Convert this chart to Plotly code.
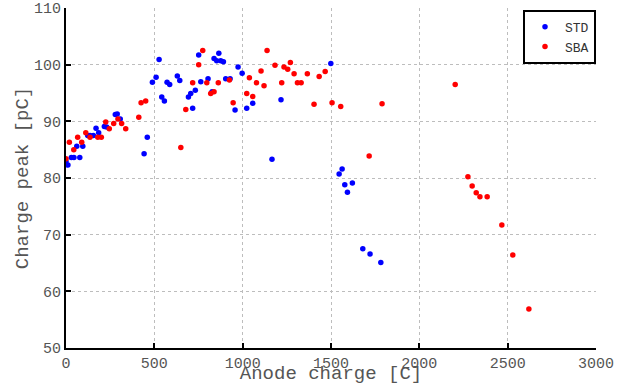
import plotly.graph_objects as go

std_x = [0, 11, 30, 45, 78, 61, 95, 123, 136, 155, 170, 185, 217, 230, 279, 290, 307,
         460, 442, 557, 542, 527, 510, 489, 572, 587, 630, 644, 693, 706, 732, 717,
         751, 865, 838, 853, 876, 891, 974, 997, 763, 804, 827, 904, 929, 957, 1023,
         1057, 1217, 1166, 1499, 1563, 1546, 1578, 1621, 1593, 1680, 1721, 1782]
std_y = [82.9, 82.3, 83.6, 83.6, 83.6, 85.6, 85.6, 87.5, 87.5, 87.5, 88.8, 88.0, 89.1, 89.0, 91.2, 91.3, 90.4,
         87.2, 84.3, 93.6, 94.3, 100.9, 97.8, 96.9, 96.9, 96.5, 98.0, 97.2, 94.3, 94.9, 95.5, 92.3,
         101.7, 102.0, 101.1, 100.7, 100.7, 100.5, 99.6, 98.5, 97.0, 97.5, 95.2, 97.5, 97.5, 92.0, 92.3,
         93.2, 93.8, 83.3, 100.2, 81.6, 80.7, 78.8, 79.1, 77.5, 67.5, 66.6, 65.1]

sba_x = [0, 19, 44, 66, 89, 112, 136, 180, 200, 225, 245, 270, 294, 315, 338, 412, 425, 451,
         650, 678, 774, 751, 717, 797, 819, 838, 862, 925, 946, 1023, 1038, 1057, 1078, 1104,
         1121, 1138, 1183, 1221, 1234, 1255, 1270, 1291, 1310, 1331, 1366, 1404, 1433, 1467,
         1506, 1555, 1789, 1716, 2203, 2275, 2299, 2322, 2343, 2384, 2467, 2529, 2620]
sba_y = [83.4, 86.3, 85.0, 87.2, 86.3, 88.0, 87.2, 87.2, 87.2, 89.9, 88.7, 89.6, 90.4, 89.6, 88.7, 90.7, 93.3, 93.6,
         85.4, 92.1, 102.5, 100.0, 96.8, 96.8, 94.9, 95.2, 96.8, 97.3, 93.3, 94.9, 97.7, 94.4, 96.8, 98.9,
         96.3, 102.5, 99.9, 96.8, 99.6, 99.2, 100.4, 98.4, 96.8, 96.8, 98.4, 93.0, 97.9, 98.8,
         93.3, 92.6, 93.1, 83.9, 96.5, 80.2, 78.6, 77.4, 76.7, 76.7, 71.7, 66.4, 56.9]

x_ticks = [0, 500, 1000, 1500, 2000, 2500, 3000]
y_ticks = [50, 60, 70, 80, 90, 100, 110]

FONT = "Liberation Mono, Courier New, monospace"

fig = go.Figure()
fig.add_trace(go.Scatter(x=std_x, y=std_y, mode="markers", name="STD",
                         marker=dict(color="#0000ff", size=5.5)))
fig.add_trace(go.Scatter(x=sba_x, y=sba_y, mode="markers", name="SBA",
                         marker=dict(color="#ff0000", size=5.5)))

axis_common = dict(
    showline=True, linecolor="black", linewidth=2,
    ticks="inside", ticklen=5, tickwidth=2, tickcolor="black",
    showgrid=True, gridcolor="#bdbdbd", gridwidth=1, griddash="dot",
    zeroline=False, mirror=False, automargin=False,
    tickfont=dict(family=FONT, size=15, color="#555555"),
)

fig.update_xaxes(range=[0, 3000], tickvals=x_ticks, ticklabelstandoff=0,
                 title=dict(text="Anode charge [C]", standoff=0,
                            font=dict(family=FONT, size=19, color="#555555")),
                 **axis_common)
fig.update_yaxes(range=[50, 110], tickvals=y_ticks,
                 title=dict(text="Charge peak [pC]", standoff=0,
                            font=dict(family=FONT, size=19, color="#555555")),
                 **axis_common)

fig.update_layout(
    width=632, height=385,
    margin=dict(l=66, r=36, t=8, b=37),
    plot_bgcolor="white", paper_bgcolor="white",
    showlegend=True,
    legend=dict(x=1, y=0.995, xanchor="right", yanchor="top",
                bordercolor="black", borderwidth=2, bgcolor="white",
                font=dict(family=FONT, size=13, color="#333333"),
                itemwidth=30, tracegroupgap=0),
)

fig.write_html("out.html", config={"displayModeBar": False},
               post_script="document.body.style.margin='0';")
